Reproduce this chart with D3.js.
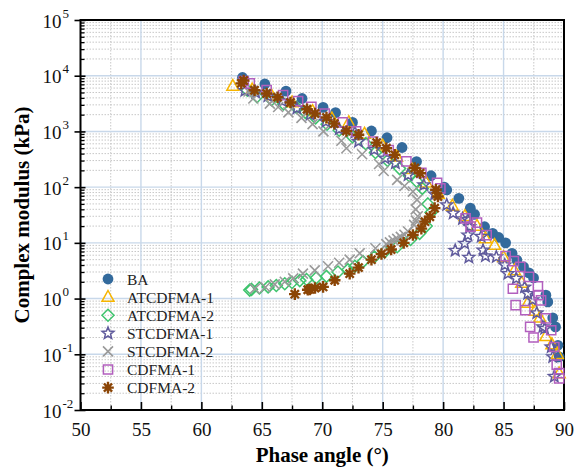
<!DOCTYPE html>
<html><head><meta charset="utf-8">
<script src="https://cdn.jsdelivr.net/npm/d3@7/dist/d3.min.js"></script>
<style>body{margin:0;background:#fff}svg{display:block}</style>
</head><body><svg id="chart" width="583" height="468"></svg>
<script>
// ---- data: [phase angle (deg), complex modulus (kPa)] ----
const BA = [[63.4,9300],[65.25,7100],[67.0,5300],[68.33,3900],[70.07,2700],[71.1,2170],[72.5,1450],[74.07,1020],[75.36,770],[76.6,515],[77.8,288],[79.0,160],[80.1,100],[80.3,89],[81.3,63],[82.25,42],[82.6,32.5],[83.43,19.5],[84.1,14.8],[84.6,12.5],[85.17,10],[85.7,6.5],[86.1,4.9],[86.65,3.7],[87.1,2.9],[87.48,2.35],[88.5,1.15],[88.66,0.87],[89.07,0.45],[89.3,0.31],[89.5,0.145],[89.6,0.09]];
const ATCDFMA1 = [[62.6,6500],[64.2,5600],[65.8,4400],[67.5,3300],[69.2,2300],[70.8,1700],[72.2,1450],[73.5,900],[75.0,550],[76.15,350],[77.4,210],[78.6,120],[79.6,75],[80.76,46],[81.8,30],[82.8,20],[83.5,12],[84.26,9.1],[85.0,5.5],[85.9,3.2],[86.5,1.9],[87.0,0.83],[87.6,0.6],[88.0,0.45],[88.5,0.21],[89.0,0.15],[89.45,0.10],[89.6,0.045]];
const ATCDFMA2 = [[63.8,5500],[64.6,4200],[65.8,3700],[66.8,3100],[67.87,2700],[68.6,2200],[69.45,1750],[70.4,1350],[71.4,1050],[72.5,800],[73.6,600],[74.4,420],[75.4,300],[76.4,215],[77.2,160],[77.8,128],[78.28,95],[78.74,50],[79.0,35],[78.6,20],[78.06,14.8],[77.3,11.5],[76.2,8.5],[75.17,6.9],[74.3,5.6],[73.37,4.6],[72.7,3.8],[72.13,3.3],[71.3,3.0],[70.35,2.5],[69.5,2.35],[68.7,2.2],[68.14,2.1],[67.5,1.95],[66.9,1.85],[66.2,1.72],[65.52,1.62],[64.8,1.55],[64.15,1.46],[64.0,1.42]];
const STCDFMA1 = [[63.6,5400],[64.5,5000],[65.5,4300],[66.7,3500],[67.9,2600],[69.0,2000],[70.3,1500],[71.4,1100],[72.7,960],[73.0,660],[74.3,470],[75.2,330],[76.05,270],[77.1,165],[78.4,110],[79.3,75],[80.3,48],[80.83,34],[81.6,27],[82.05,26],[82.2,19.5],[82.05,13.8],[81.78,9.8],[81.0,7.3],[82.13,5.5],[83.15,13],[83.3,7.4],[83.5,5.8],[84.4,5.6],[85.1,4.0],[85.36,2.8],[86.05,2.3],[86.74,1.6],[87.0,1.23],[87.4,0.95],[87.75,0.55],[88.25,0.31],[88.4,0.29],[88.94,0.135],[89.07,0.09],[89.2,0.04]];
const STCDFMA2 = [[63.9,5200],[64.3,3900],[65.66,3150],[66.35,2750],[67.2,2200],[68.28,1750],[69.2,1350],[70.1,1000],[71.58,680],[72.0,500],[73.3,390],[74.7,260],[75.08,195],[76.2,135],[76.8,105],[77.5,83],[77.84,59],[77.73,40],[77.9,30],[77.75,25],[77.6,21],[77.1,16],[76.8,14],[76.5,12.8],[76.2,11.8],[75.9,11],[75.6,10.2],[75.3,9.5],[74.4,8],[73.1,6.5],[72.27,5.0],[71.4,4.4],[70.48,3.8],[69.38,3.2],[68.4,2.8],[67.6,2.3],[66.9,2.0],[66.07,1.8],[65.3,1.6],[64.42,1.5]];
const CDFMA1 = [[63.5,8000],[64.0,7300],[65.4,5500],[66.76,4500],[68.0,3500],[69.1,2750],[70.2,2100],[71.7,1450],[72.8,1000],[74.2,660],[75.5,460],[76.96,290],[78.2,180],[79.5,120],[79.77,95],[81.86,27.5],[82.27,19.5],[82.8,23],[83.6,13.8],[85.17,5.8],[85.85,4.7],[85.77,1.5],[86.38,3.7],[86.0,0.76],[86.8,0.62],[87.1,2.45],[87.2,0.31],[87.48,0.2],[87.84,1.65],[87.9,1.15],[88.1,0.93],[88.5,0.44],[88.94,0.27],[89.2,0.135],[89.4,0.065],[89.6,0.046],[89.6,0.037]];
const CDFMA2 = [[63.3,7300],[63.5,8200],[64.4,5500],[65.4,4800],[66.3,4100],[67.37,3300],[68.74,2500],[69.4,2100],[70.35,1780],[71.0,1380],[72.0,1020],[73.0,870],[74.5,630],[75.3,500],[76.0,380],[77.65,220],[78.1,178],[79.4,90],[79.57,68],[79.3,42],[78.9,29.5],[78.5,24],[78.2,18],[77.5,13.8],[76.74,10],[75.7,7.6],[74.9,6.3],[74.07,5.0],[73.0,3.6],[72.27,2.8],[71.03,2.13],[70.07,1.62],[69.4,1.55],[68.97,1.46],[68.8,1.44],[67.73,1.2]];

const seriesNames = ["BA","ATCDFMA-1","ATCDFMA-2","STCDFMA-1","STCDFMA-2","CDFMA-1","CDFMA-2"];
const seriesData = [BA,ATCDFMA1,ATCDFMA2,STCDFMA1,STCDFMA2,CDFMA1,CDFMA2];
const xTicks = [50,55,60,65,70,75,80,85,90];
const yTickExps = [-2,-1,0,1,2,3,4,5];
const xTitle = "Phase angle (°)";
const yTitle = "Complex modulus (kPa)";

// ---- styles ----
const colors = ["#336a9c","#f7b500","#3ec46d","#5f5a9c","#9a9a9a","#b25fbe","#8b4506"];
const shapes = ["circle","triangle","diamond","star","x","square","asterisk"];

const svg = d3.select("#chart");
const L = 80.5, R = 564, T = 20, B = 410;
const x = d3.scaleLinear().domain([50,90]).range([L,R]);
const y = d3.scaleLog().domain([1e-2,1e5]).range([B,T]);

function shapePath(s){
  switch(s){
    case "circle": return d3.symbol(d3.symbolCircle, Math.PI*5.4*5.4)();
    case "triangle": return "M0,-6.6L6,4.2L-6,4.2Z";
    case "diamond": return "M0,-6L6,0L0,6L-6,0Z";
    case "square": return "M-4.6,-4.6H4.6V4.6H-4.6Z";
    case "x": return "M-5,-5L5,5M-5,5L5,-5";
    case "star": {
      let p=[];for(let i=0;i<10;i++){const r=i%2?2.7:6.2;const a=-Math.PI/2+i*Math.PI/5;p.push([r*Math.cos(a),r*Math.sin(a)]);}
      return "M"+p.map(d=>d[0].toFixed(2)+","+d[1].toFixed(2)).join("L")+"Z";}
    case "asterisk": {
      let s2="";for(let i=0;i<4;i++){const a=i*Math.PI/4;const c=5.8*Math.cos(a),d=5.8*Math.sin(a);s2+=`M${(-c).toFixed(2)},${(-d).toFixed(2)}L${c.toFixed(2)},${d.toFixed(2)}`;}
      return s2;}
  }
}
function styleMarker(sel,i){
  const s = shapes[i], c = colors[i];
  if(s==="circle") sel.attr("fill",c).attr("stroke","none");
  else if(s==="asterisk") sel.attr("fill","none").attr("stroke",c).attr("stroke-width",2.4);
  else sel.attr("fill","none").attr("stroke",c).attr("stroke-width",s==="x"?1.6:1.5);
}

// ---- grid ----
const grid = svg.append("g");
// minor vertical
d3.range(52.5,90,5).forEach(v=>{
  grid.append("line").attr("x1",x(v)).attr("x2",x(v)).attr("y1",T).attr("y2",B)
    .attr("stroke","#c2c2c2").attr("stroke-width",0.9).attr("stroke-dasharray","1.5,1.5");
});
// minor horizontal
yTickExps.slice(0,-1).forEach(e=>{
  for(let m=2;m<=9;m++){
    const v=m*Math.pow(10,e);
    grid.append("line").attr("x1",L).attr("x2",R).attr("y1",y(v)).attr("y2",y(v))
      .attr("stroke","#c2c2c2").attr("stroke-width",0.9).attr("stroke-dasharray","1.5,1.5");
  }
});
// major
xTicks.slice(1,-1).forEach(v=>{
  grid.append("line").attr("x1",x(v)).attr("x2",x(v)).attr("y1",T).attr("y2",B)
    .attr("stroke","#c8d8ea").attr("stroke-width",1.4);
});
yTickExps.slice(1,-1).forEach(e=>{
  const v=Math.pow(10,e);
  grid.append("line").attr("x1",L).attr("x2",R).attr("y1",y(v)).attr("y2",y(v))
    .attr("stroke","#c8d8ea").attr("stroke-width",1.4);
});

// ---- axes ----
const xAxis = d3.axisBottom(x).tickValues(xTicks).tickSize(-8).tickPadding(13).tickFormat(d3.format("d"));
const gx = svg.append("g").attr("transform",`translate(0,${B})`).call(xAxis);
gx.select(".domain").remove();
gx.selectAll(".tick line").attr("stroke","#000").attr("stroke-width",1.6);
gx.selectAll(".tick text").attr("font-family","'Liberation Serif','Times New Roman',serif").attr("font-size",19).attr("fill","#111");
const gxm = svg.append("g").attr("transform",`translate(0,${B})`).call(d3.axisBottom(x).tickValues(d3.range(52.5,90,5)).tickSize(-4.5).tickFormat(""));
gxm.select(".domain").remove();
gxm.selectAll(".tick line").attr("stroke","#000").attr("stroke-width",1.4);

const yAxis = d3.axisLeft(y).tickValues(yTickExps.map(e=>Math.pow(10,e))).tickSize(6).tickPadding(5).tickFormat("");
const gy = svg.append("g").attr("transform",`translate(${L},0)`).call(yAxis);
gy.select(".domain").remove();
gy.selectAll(".tick line").attr("stroke","#000").attr("stroke-width",1.6).attr("x2",-6).attr("x1",5);
gy.selectAll(".tick").each(function(d){
  const e = Math.round(Math.log10(d));
  const t = d3.select(this).append("text").attr("x",-19).attr("y",7).attr("text-anchor","end")
    .attr("font-family","'Liberation Serif','Times New Roman',serif").attr("font-size",19).attr("fill","#111").text("10");
  d3.select(this).append("text").attr("x",-18).attr("y",-3).attr("text-anchor","start")
    .attr("font-family","'Liberation Serif','Times New Roman',serif").attr("font-size",13).attr("fill","#111").text(e<0?"-"+(-e):String(e));
});
const minorY=[];
yTickExps.slice(0,-1).forEach(e=>{for(let m=2;m<=9;m++)minorY.push(m*Math.pow(10,e));});
const gym = svg.append("g").attr("transform",`translate(${L},0)`).call(d3.axisLeft(y).tickValues(minorY).tickSize(-4).tickFormat(""));
gym.select(".domain").remove();
gym.selectAll(".tick line").attr("stroke","#000").attr("stroke-width",1.3);

// frame
svg.append("rect").attr("x",L).attr("y",T).attr("width",R-L).attr("height",B-T)
  .attr("fill","none").attr("stroke","#000").attr("stroke-width",2);

// ---- data markers ----
seriesData.forEach((data,i)=>{
  const g = svg.append("g");
  g.selectAll("path").data(data).join("path")
    .attr("d",shapePath(shapes[i]))
    .attr("transform",d=>`translate(${x(d[0])},${y(d[1])})`)
    .call(styleMarker,i);
});

// ---- legend ----
const lg = svg.append("g");
seriesNames.forEach((n,i)=>{
  const yy = 279 + i*18.1;
  lg.append("path").attr("d",shapePath(shapes[i])).attr("transform",`translate(108,${yy})`).call(styleMarker,i);
  lg.append("text").attr("x",127).attr("y",yy+5.5).attr("font-family","'Liberation Serif','Times New Roman',serif")
    .attr("font-size",15.5).attr("fill","#222").text(n);
});

// ---- titles ----
svg.append("text").attr("x",(L+R)/2).attr("y",462).attr("text-anchor","middle")
  .attr("font-family","'Liberation Serif','Times New Roman',serif").attr("font-weight","bold").attr("font-size",21).attr("fill","#000").text(xTitle);
svg.append("text").attr("transform",`translate(29,${(T+B)/2}) rotate(-90)`).attr("text-anchor","middle")
  .attr("font-family","'Liberation Serif','Times New Roman',serif").attr("font-weight","bold").attr("font-size",21).attr("fill","#000").text(yTitle);
</script></body></html>
